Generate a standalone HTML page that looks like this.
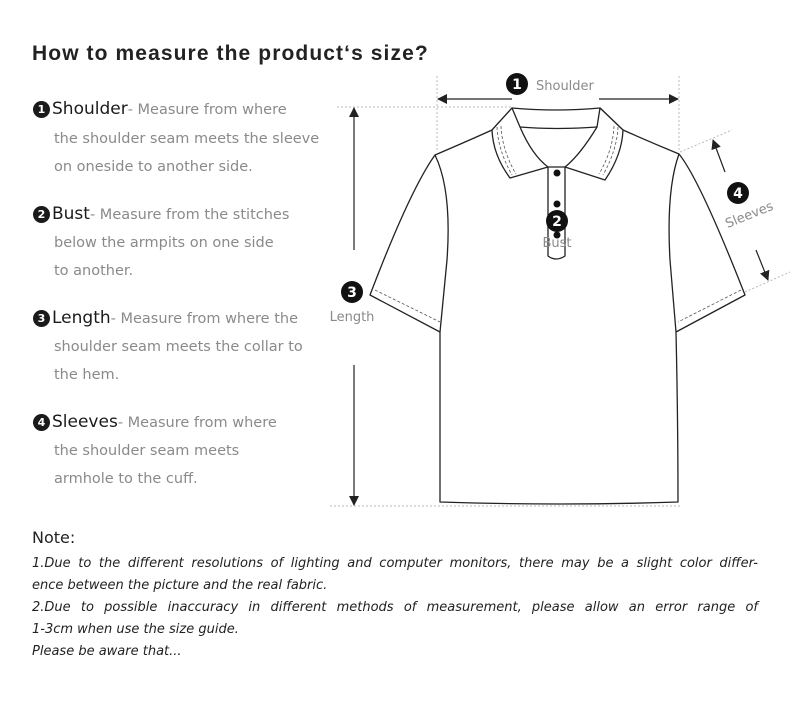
<!DOCTYPE html>
<html><head><meta charset="utf-8"><style>
body{margin:0;width:790px;height:710px;background:#fff;position:relative;overflow:hidden;font-family:"DejaVu Sans","Liberation Sans",sans-serif}
.t{position:absolute;white-space:nowrap}
.g{color:#8a8a8a;font-size:14.5px}
.h{color:#1a1a1a;font-size:17px}
.c{display:inline-block;width:17px;height:17px;border-radius:50%;background:#1a1a1a;color:#fff;font-size:11px;font-weight:bold;text-align:center;line-height:17px;vertical-align:1px;margin-right:2px}
.n{position:absolute;left:32px;width:726px;font-style:italic;font-size:13px;color:#222;white-space:nowrap}
.j{white-space:normal;text-align:justify;text-align-last:justify}
</style></head><body>
<div class="t" style="left:32px;top:42px;font-family:'Liberation Sans',sans-serif;font-size:21px;letter-spacing:1.1px;font-weight:bold;color:#222">How to measure the product‘s size?</div>

<div class="t" style="left:33px;top:99px"><span class="c">1</span><span class="h">Shoulder</span><span class="g">- Measure from where</span></div>
<div class="t g" style="left:54px;top:131px">the shoulder seam meets the sleeve</div>
<div class="t g" style="left:54px;top:159px">on oneside to another side.</div>

<div class="t" style="left:33px;top:204px"><span class="c">2</span><span class="h">Bust</span><span class="g">- Measure from the stitches</span></div>
<div class="t g" style="left:54px;top:235px">below the armpits on one side</div>
<div class="t g" style="left:54px;top:263px">to another.</div>

<div class="t" style="left:33px;top:308px"><span class="c">3</span><span class="h">Length</span><span class="g">- Measure from where the</span></div>
<div class="t g" style="left:54px;top:339px">shoulder seam meets the collar to</div>
<div class="t g" style="left:54px;top:367px">the hem.</div>

<div class="t" style="left:33px;top:412px"><span class="c">4</span><span class="h">Sleeves</span><span class="g">- Measure from where</span></div>
<div class="t g" style="left:54px;top:443px">the shoulder seam meets</div>
<div class="t g" style="left:54px;top:471px">armhole to the cuff.</div>

<div class="t" style="left:32px;top:528px;font-size:16px;color:#222">Note:</div>
<div class="n j" style="top:556px">1.Due to the different resolutions of lighting and computer monitors, there may be a slight color differ-</div>
<div class="n" style="top:578px">ence between the picture and the real fabric.</div>
<div class="n j" style="top:600px">2.Due to possible inaccuracy in different methods of measurement, please allow an error range of</div>
<div class="n" style="top:622px">1-3cm when use the size guide.</div>
<div class="n" style="top:644px">Please be aware that...</div>

<svg width="790" height="710" style="position:absolute;left:0;top:0" xmlns="http://www.w3.org/2000/svg">
<defs><marker id="a" markerWidth="10" markerHeight="10" refX="9" refY="5" orient="auto" markerUnits="userSpaceOnUse"><path d="M0,0 L10,5 L0,10 z" fill="#222"/></marker></defs>
<g stroke="#bbb" stroke-width="1" stroke-dasharray="2,2" fill="none">
<line x1="437" y1="76" x2="437" y2="152"/><line x1="679" y1="76" x2="679" y2="152"/>
<line x1="337" y1="107" x2="512" y2="107"/><line x1="330" y1="506" x2="680" y2="506"/>
<line x1="680" y1="152" x2="732" y2="130"/><line x1="745" y1="292" x2="790" y2="272"/>
</g>
<g stroke="#222" stroke-width="1.2" fill="none">
<line x1="512" y1="99" x2="438" y2="99" marker-end="url(#a)"/>
<line x1="599" y1="99" x2="678" y2="99" marker-end="url(#a)"/>
<line x1="354" y1="250" x2="354" y2="108" marker-end="url(#a)"/>
<line x1="354" y1="365" x2="354" y2="505" marker-end="url(#a)"/>
<line x1="543" y1="225" x2="453" y2="225" marker-end="url(#a)"/>
<line x1="573" y1="225" x2="663" y2="225" marker-end="url(#a)"/>
<line x1="725" y1="172" x2="713" y2="140" marker-end="url(#a)"/>
<line x1="756" y1="250" x2="768" y2="280" marker-end="url(#a)"/>
</g>
<g stroke="#222" stroke-width="1.3" fill="#fff" stroke-linejoin="round">
<path d="M435,155 Q470,140 492,130 L512,108 Q556,112 600,108 L623,130 Q650,142 679,154 Q700,180 745,295 L676,332 Q678,420 678,502 Q560,506 440,502 Q440,420 440,332 L370,295 Q410,190 435,155 Z"/>
<path d="M435,155 Q452,190 447,260 L440,332" fill="none"/>
<path d="M679,154 Q666,190 670,260 L676,332" fill="none"/>
<path d="M512,108 L492,130 Q493,155 510,178 L548,167 Q532,155 520,127 Z"/>
<path d="M600,108 L623,130 Q622,155 605,180 L565,167 Q580,155 597,127 Z"/>
<path d="M520,127 Q556,130 597,127" fill="none"/>
<path d="M548,167 L548,256 Q556,262 565,256 L565,167 Z"/>
</g>
<g stroke="#555" stroke-width="0.8" stroke-dasharray="3,2" fill="none">
<path d="M497,127 Q498,150 512,175"/><path d="M501,126 Q502,150 516,174"/>
<path d="M618,127 Q617,150 603,175"/><path d="M614,126 Q613,150 599,174"/>
<path d="M375,290 L440,322"/><path d="M741,290 L678,322"/>
</g>
<g fill="#111"><circle cx="557" cy="173" r="3.5"/><circle cx="557" cy="204" r="3.5"/><circle cx="557" cy="235" r="3.5"/>
<circle cx="517" cy="84" r="11"/><circle cx="557" cy="221" r="11"/><circle cx="352" cy="292" r="11"/><circle cx="738" cy="193" r="11"/></g>
<g fill="#fff" font-family="DejaVu Sans" font-weight="bold" font-size="14" text-anchor="middle">
<text x="517" y="89">1</text><text x="557" y="226">2</text><text x="352" y="297">3</text><text x="738" y="198">4</text></g>
<g fill="#8a8a8a" font-family="DejaVu Sans" font-size="13">
<text x="536" y="90">Shoulder</text>
<text x="557" y="247" text-anchor="middle">Bust</text>
<text x="352" y="321" text-anchor="middle">Length</text>
<text x="749" y="219" text-anchor="middle" transform="rotate(-22 749 214)">Sleeves</text>
</g>
</svg>
</body></html>
